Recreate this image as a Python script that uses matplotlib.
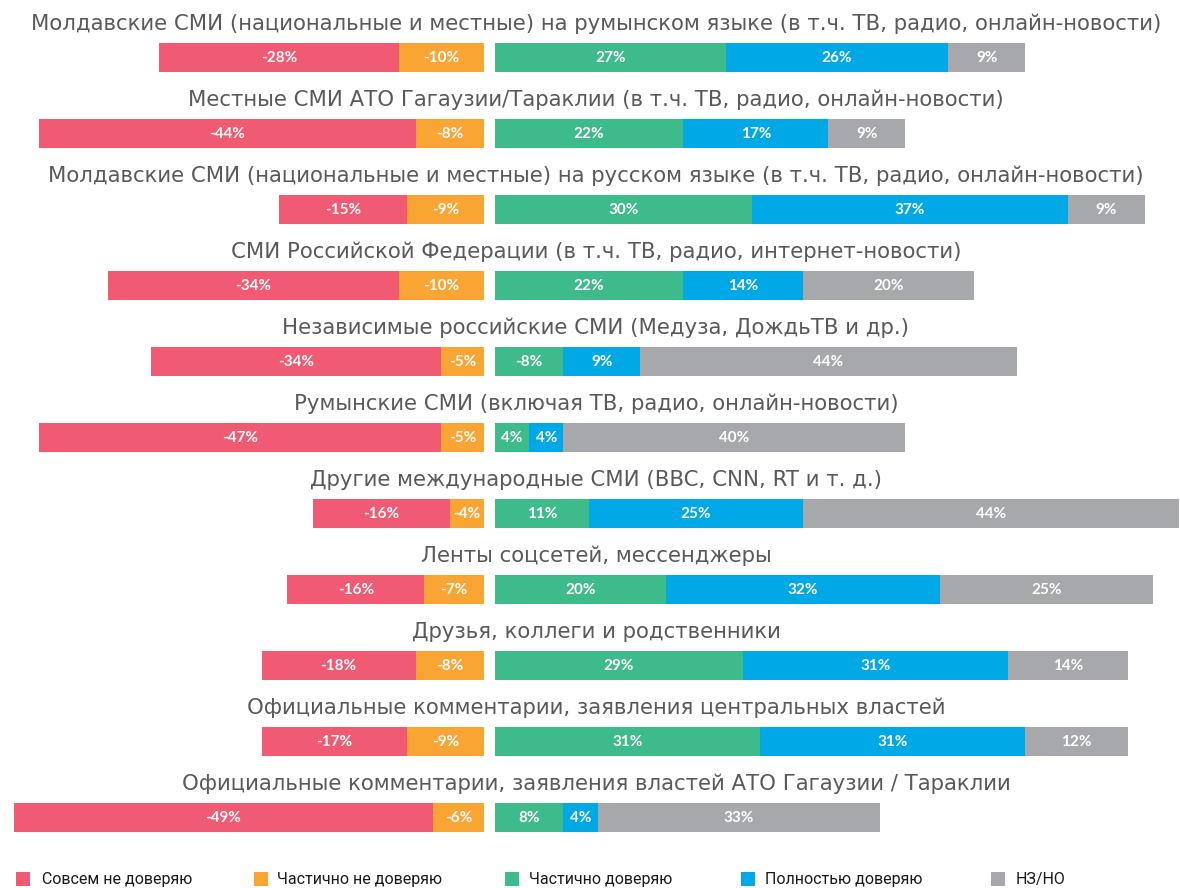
import matplotlib
matplotlib.use("Agg")
import matplotlib.pyplot as plt
from matplotlib.patches import Rectangle
import matplotlib.transforms as mtransforms

categories = [
    "Молдавские СМИ (национальные и местные) на румынском языке (в т.ч. ТВ, радио, онлайн-новости)",
    "Местные СМИ АТО Гагаузии/Тараклии (в т.ч. ТВ, радио, онлайн-новости)",
    "Молдавские СМИ (национальные и местные) на русском языке (в т.ч. ТВ, радио, онлайн-новости)",
    "СМИ Российской Федерации (в т.ч. ТВ, радио, интернет-новости)",
    "Независимые российские СМИ (Медуза, ДождьТВ и др.)",
    "Румынские СМИ (включая ТВ, радио, онлайн-новости)",
    "Другие международные СМИ (BBC, CNN, RT и т. д.)",
    "Ленты соцсетей, мессенджеры",
    "Друзья, коллеги и родственники",
    "Официальные комментарии, заявления центральных властей",
    "Официальные комментарии, заявления властей АТО Гагаузии / Тараклии",
]
series_names = ["Совсем не доверяю", "Частично не доверяю", "Частично доверяю",
                "Полностью доверяю", "НЗ/НО"]
not_at_all = [28, 44, 15, 34, 34, 47, 16, 16, 18, 17, 49]
partly_not = [10, 8, 9, 10, 5, 5, 4, 7, 8, 9, 6]
partly = [27, 22, 30, 22, 8, 4, 11, 20, 29, 31, 8]
fully = [26, 17, 37, 14, 9, 4, 25, 32, 31, 31, 4]
dk = [9, 9, 9, 20, 44, 40, 44, 25, 14, 12, 33]
label_override = {(4, 2): "-8%"}  # (row, series): label as printed on the chart

colors = ["#F05A72", "#F9A533", "#3DBB8B", "#00A9E6", "#A7A8AC"]

W, H = 1180, 888
fig = plt.figure(figsize=(W / 100, H / 100), dpi=100)
ax = fig.add_axes([0, 0, 1, 1])
ax.axis("off")

pxp = 8.55            # pixels per percent
zero_px = 495         # right-side zero
gap = 11 / pxp        # gap between sides in percent
xmin = -zero_px / pxp
ax.set_xlim(xmin, xmin + W / pxp)
row0, step = 57.5, 76.0
ax.set_ylim((H - row0) / step, -row0 / step)

bh = 29 / step
lab_font = dict(family="Lato", fontweight="bold", fontsize=11, color="white")

trans = mtransforms.blended_transform_factory(ax.transAxes, ax.transData)
for i, cat in enumerate(categories):
    # left (negative) side
    left = -gap
    for k, vals in ((1, partly_not), (0, not_at_all)):
        v = vals[i]
        ax.barh(i, v, left=left - v, height=bh, color=colors[k], linewidth=0)
        txt = label_override.get((i, k), f"-{v}%")
        ax.text(left - v / 2, i, txt, ha="center", va="center", **lab_font)
        left -= v
    # right side
    left = 0
    for k, vals in ((2, partly), (3, fully), (4, dk)):
        v = vals[i]
        ax.barh(i, v, left=left, height=bh, color=colors[k], linewidth=0)
        txt = label_override.get((i, k), f"{v}%")
        ax.text(left + v / 2, i, txt, ha="center", va="center", **lab_font)
        left += v
    ax.text(596 / W, i - 34 / step, cat, transform=trans, ha="center", va="center",
            fontsize=15.3, color="#58595B", family="DejaVu Sans")

# legend
leg_sq = [16, 254, 505, 741, 991]
leg_tx = [42, 277, 529, 765, 1016]
leg_y = 879
for k, name in enumerate(series_names):
    fig.patches.append(Rectangle((leg_sq[k] / W, 1 - (leg_y + 7) / H), 14 / W, 14 / H,
                                 transform=fig.transFigure, color=colors[k], linewidth=0))
    fig.text(leg_tx[k] / W, 1 - leg_y / H, name, ha="left", va="center",
             fontsize=11.5, color="#1a1a1a", family="Roboto")

fig.savefig("out.png", dpi=100)
